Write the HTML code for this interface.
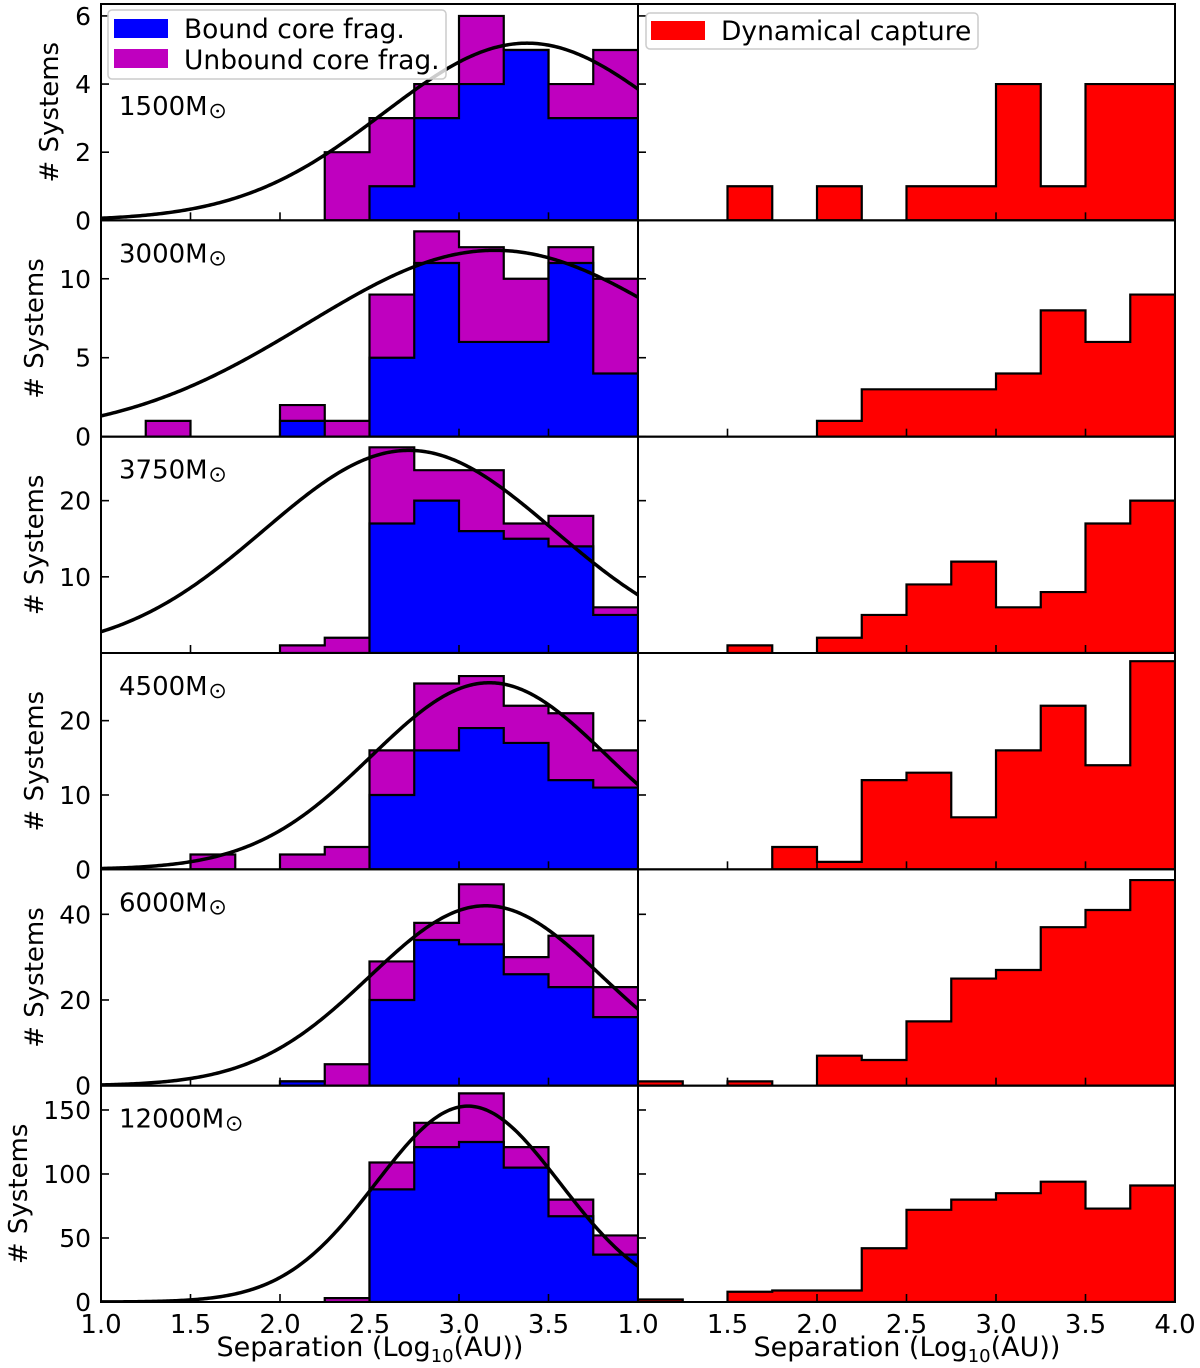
<!DOCTYPE html>
<html><head><meta charset="utf-8">
<style>
html,body{margin:0;padding:0;background:#fff;}
svg{display:block;font-family:"DejaVu Sans","Liberation Sans",sans-serif;}
</style></head>
<body>
<svg id="fig" width="1200" height="1368" viewBox="0 0 1200 1368" xmlns="http://www.w3.org/2000/svg"></svg>
<script>
// ---- data ----
const binStarts = [1.0,1.25,1.5,1.75,2.0,2.25,2.5,2.75,3.0,3.25,3.5,3.75];
const massLabels = ["1500","3000","3750","4500","6000","12000"];
const yMaxes = [6.35,13.7,28.4,29.1,50.5,169];
const yTicks = [[0,2,4,6],[0,5,10],[10,20],[0,10,20],[0,20,40],[0,50,100,150]];
const xTickLabelsLeft = ["1.0","1.5","2.0","2.5","3.0","3.5","1.0"];
const xTickLabelsRight = ["1.5","2.0","2.5","3.0","3.5","4.0"];
const xTickValues = [1.0,1.5,2.0,2.5,3.0,3.5,4.0];
// totals (bound + unbound) per bin
const totalR1 = [0,0,0,0,0,2,3,4,6,5,4,5];
const boundR1 = [0,0,0,0,0,0,1,3,4,5,3,3];
const totalR2 = [0,1,0,0,2,1,9,13,12,10,12,10];
const boundR2 = [0,0,0,0,1,0,5,11,6,6,11,4];
const totalR3 = [0,0,0,0,1,2,27,24,24,17,18,6];
const boundR3 = [0,0,0,0,0,0,17,20,16,15,14,5];
const totalR4 = [0,0,2,0,2,3,16,25,26,22,21,16];
const boundR4 = [0,0,0,0,0,0,10,16,19,17,12,11];
const totalR5 = [0,0,0,0,1,5,29,38,47,30,35,23];
const boundR5 = [0,0,0,0,1,0,20,34,33,26,23,16];
const totalR6 = [0,0,0,0,0,3,109,140,163,121,80,52];
const boundR6 = [0,0,0,0,0,0,88,121,125,105,67,37];
const captureR1 = [0,0,1,0,1,0,1,1,4,1,4,4];
const captureR2 = [0,0,0,0,1,3,3,3,4,8,6,9];
const captureR3 = [0,0,1,0,2,5,9,12,6,8,17,20];
const captureR4 = [0,0,0,3,1,12,13,7,16,22,14,28];
const captureR5 = [1,0,1,0,7,6,15,25,27,37,41,48];
const captureR6 = [2,0,8,9,9,42,72,80,85,94,73,91];
// gaussian fit parameters: amplitude, mean, sigma
const fitAmp = [5.2,11.8,26.6,25.1,42,153];
const fitMean = [3.38,3.2,2.72,3.17,3.15,3.05];
const fitSigma = [0.8,1.05,0.81,0.66,0.65,0.515];

const totals=[totalR1,totalR2,totalR3,totalR4,totalR5,totalR6];
const bounds=[boundR1,boundR2,boundR3,boundR4,boundR5,boundR6];
const captures=[captureR1,captureR2,captureR3,captureR4,captureR5,captureR6];

// ---- layout ----
const svg=document.getElementById('fig');
const NS='http://www.w3.org/2000/svg';
const L0=101, L1=638, R0=638, R1=1175, TOP=4, BOT=1302;
const rowH=(BOT-TOP)/6;
const titleX=[58,43,43,43,43,27];
const massY=[111,42,42,42,42,42];
function mk(tag,attrs,parent){const e=document.createElementNS(NS,tag);for(const k in attrs)e.setAttribute(k,attrs[k]);(parent||svg).appendChild(e);return e;}
function xs(x0,x1){return v=>x0+(v-1)/3*(x1-x0);}
function ysc(r){const b=TOP+rowH*(r+1);return v=>b-v/yMaxes[r]*rowH;}

function stepPath(vals,X,Y){
  let d='';
  let i=0;
  const bw=0.25;
  while(i<vals.length){
    if(vals[i]<=0){i++;continue;}
    let j=i;while(j<vals.length&&vals[j]>0)j++;
    d+='M'+X(binStarts[i])+','+Y(0);
    for(let k=i;k<j;k++){d+='L'+X(binStarts[k])+','+Y(vals[k])+'L'+X(binStarts[k]+bw)+','+Y(vals[k]);}
    d+='L'+X(binStarts[j-1]+bw)+','+Y(0)+'Z';
    i=j;
  }
  return d;
}

for(let r=0;r<6;r++){
  const top=TOP+rowH*r, bot=top+rowH;
  const Y=ysc(r);
  const cl=mk('clipPath',{id:'cl'+r});mk('rect',{x:L0,y:top,width:L1-L0,height:rowH},cl);
  const cr=mk('clipPath',{id:'cr'+r});mk('rect',{x:R0,y:top,width:R1-R0,height:rowH},cr);
  const gl=mk('g',{'clip-path':'url(#cl'+r+')'});
  
  
  const XL=xs(L0,L1);
  const pt=mk('path',{d:stepPath(totals[r],XL,Y),fill:'#bf00bf',stroke:'#000','stroke-width':2.2},gl);
  
  
  const pb=mk('path',{d:stepPath(bounds[r],XL,Y),fill:'#0000ff',stroke:'#000','stroke-width':2.2},gl);
  
  
  let cd='';
  for(let k=0;k<=300;k++){const x=1+3*k/300;const v=fitAmp[r]*Math.exp(-Math.pow(x-fitMean[r],2)/(2*fitSigma[r]*fitSigma[r]));cd+=(k?'L':'M')+XL(x).toFixed(2)+','+Y(v).toFixed(2);}
  const fc=mk('path',{d:cd,fill:'none',stroke:'#000','stroke-width':3.5},gl);
  
  
  const gr=mk('g',{'clip-path':'url(#cr'+r+')'});
  
  
  const XR=xs(R0,R1);
  const pc=mk('path',{d:stepPath(captures[r],XR,Y),fill:'#ff0000',stroke:'#000','stroke-width':2.2},gr);
  
  
  for(const v of yTicks[r]){
    const y=Y(v);
    mk('line',{x1:L0,x2:L0+8,y1:y,y2:y,stroke:'#000','stroke-width':1.6});
    mk('line',{x1:R0,x2:R0+8,y1:y,y2:y,stroke:'#000','stroke-width':1.6});
    const t=mk('text',{x:L0-10,y:y+9,'font-size':25,'text-anchor':'end'});
    t.textContent=v;
    
    
  }
  for(const v of xTickValues){
    mk('line',{x1:XL(v),x2:XL(v),y1:bot,y2:bot-8,stroke:'#000','stroke-width':1.6});
    mk('line',{x1:XR(v),x2:XR(v),y1:bot,y2:bot-8,stroke:'#000','stroke-width':1.6});
  }
  mk('rect',{x:L0,y:top,width:L1-L0,height:rowH,fill:'none',stroke:'#000','stroke-width':2});
  mk('rect',{x:R0,y:top,width:R1-R0,height:rowH,fill:'none',stroke:'#000','stroke-width':2});
  const ml=mk('text',{x:119,y:top+massY[r],'font-size':26});
  ml.textContent=massLabels[r]+'M';
  
  
  const sun=mk('g',{});
  
  
  const tw=ml.getComputedTextLength?ml.getComputedTextLength():100;
  mk('circle',{cx:119+tw+10,cy:top+massY[r]-4,r:6.5,fill:'none',stroke:'#000','stroke-width':1.5},sun);
  mk('circle',{cx:119+tw+10,cy:top+massY[r]-4,r:1.4,fill:'#000'},sun);
  const yt=mk('text',{x:0,y:0,'font-size':26,'text-anchor':'middle',transform:'translate('+titleX[r]+','+(top+rowH/2)+') rotate(-90)'});
  yt.textContent='# Systems';
  
  
}
const XLf=xs(L0,L1), XRf=xs(R0,R1);
xTickLabelsLeft.forEach((s,i)=>{const t=mk('text',{x:XLf(xTickValues[i]),y:1333,'font-size':26,'text-anchor':'middle'});t.textContent=s;
  
  });
xTickLabelsRight.forEach((s,i)=>{const t=mk('text',{x:XRf(xTickValues[i+1]),y:1333,'font-size':26,'text-anchor':'middle'});t.textContent=s;
  
  });
[[370,'left'],[907,'right']].forEach(([cx,n])=>{
  const t=mk('text',{x:cx,y:1356,'font-size':27,'text-anchor':'middle'});
  t.innerHTML='Separation (Log<tspan font-size="18" dy="6">10</tspan><tspan dy="-6">(AU))</tspan>';
  
  
});
const lg=mk('g',{});


mk('rect',{x:108,y:10,width:338,height:69,rx:4,fill:'#fff','fill-opacity':0.8,stroke:'#ccc','stroke-width':1.5},lg);
mk('rect',{x:114,y:19,width:54,height:19,fill:'#0000ff'},lg);
mk('rect',{x:114,y:49,width:54,height:19,fill:'#bf00bf'},lg);
const l1=mk('text',{x:184,y:38,'font-size':26.5},lg);l1.textContent='Bound core frag.';
const l2=mk('text',{x:184,y:69,'font-size':26.5},lg);l2.textContent='Unbound core frag.';
const lg2=mk('g',{});


mk('rect',{x:646,y:13,width:332,height:36,rx:4,fill:'#fff','fill-opacity':0.8,stroke:'#ccc','stroke-width':1.5},lg2);
mk('rect',{x:651,y:21,width:54,height:19,fill:'#ff0000'},lg2);
const l3=mk('text',{x:721,y:40,'font-size':26.5},lg2);l3.textContent='Dynamical capture';
</script>
</body></html>
